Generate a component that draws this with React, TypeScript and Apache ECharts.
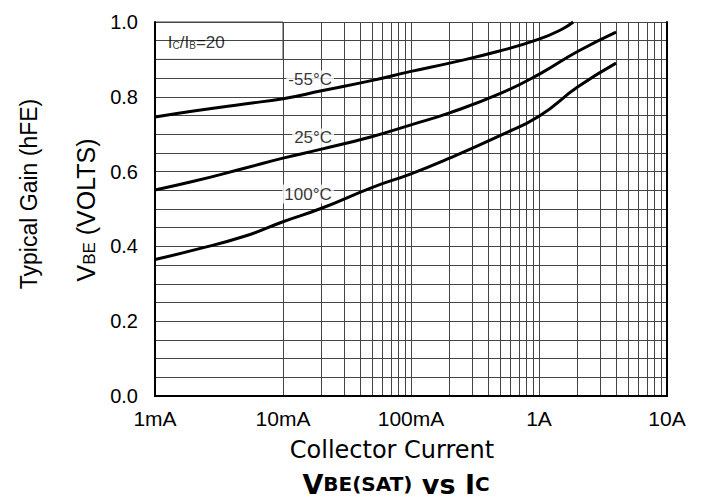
import React, { useEffect, useRef } from "react";
import * as echarts from "echarts";

// ---- data ----
const currentCold = [0.001, 0.002, 0.005, 0.01, 0.02, 0.05, 0.1, 0.2, 0.5, 1, 1.5, 1.85];
const vbeCold = [0.746, 0.762, 0.781, 0.795, 0.816, 0.844, 0.868, 0.89, 0.923, 0.954, 0.98, 1.0];
const currentRoom = [0.001, 0.002, 0.005, 0.01, 0.02, 0.05, 0.1, 0.2, 0.5, 1, 2, 4];
const vbeRoom = [0.551, 0.574, 0.609, 0.636, 0.66, 0.694, 0.725, 0.757, 0.809, 0.86, 0.921, 0.973];
const currentHot = [0.001, 0.002, 0.005, 0.01, 0.02, 0.05, 0.1, 0.2, 0.5, 1, 2, 4];
const vbeHot = [0.365, 0.39, 0.427, 0.466, 0.502, 0.558, 0.594, 0.636, 0.697, 0.748, 0.826, 0.89];

const xTickValues = [0.001, 0.01, 0.1, 1, 10];
const xTickLabels = ["1mA", "10mA", "100mA", "1A", "10A"];
const seriesNames = ["-55°C", "25°C", "100°C"];

// annotation anchors (in data units)
const tempLabelAnchors = [
  [0.0163, 0.845],
  [0.0172, 0.69],
  [0.0157, 0.54],
];
const ratioAnchor = [0.00126, 0.9465];

const FONT = "'Liberation Sans', Arial, Helvetica, sans-serif";
const GRID_COLOR = "#444";

export default function App() {
  const ref = useRef<HTMLDivElement>(null);

  useEffect(() => {
    if (!ref.current) return;
    const chart = echarts.init(ref.current, undefined, { renderer: "svg" });

    const minorX: number[] = [];
    for (let d = 0; d < 4; d++) {
      const dec = Math.pow(10, d - 3);
      for (let m = 2; m <= 9; m++) minorX.push(+(dec * m).toPrecision(6));
    }

    const labelFor = (v: number) => {
      const idx = xTickValues.findIndex((t) => Math.abs(Math.log10(t) - Math.log10(v)) < 1e-6);
      return idx >= 0 ? xTickLabels[idx] : "";
    };

    const pair = (xs: number[], ys: number[]) => xs.map((x, i) => [x, ys[i]]);

    const curveStyle = { color: "#000", width: 3 };

    chart.setOption({
      animation: false,
      backgroundColor: "#fff",
      grid: { left: 155, top: 22, width: 512, height: 374, containLabel: false },
      xAxis: [
        {
          type: "log",
          logBase: 10,
          min: 0.001,
          max: 10,
          axisLine: { show: true, lineStyle: { color: "#000", width: 2 } },
          axisTick: { show: false },
          axisLabel: {
            color: "#000",
            fontSize: 21,
            fontFamily: FONT,
            margin: 12,
            formatter: (v: number) => labelFor(v),
          },
          splitLine: { show: true, lineStyle: { color: GRID_COLOR, width: 1 } },
          z: 3,
        },
        {
          type: "log",
          logBase: 10,
          min: 0.001,
          max: 10,
          position: "top",
          axisLine: { show: true, lineStyle: { color: "#000", width: 2 } },
          axisTick: { show: false },
          axisLabel: { show: false },
          splitLine: { show: false },
          z: 3,
        },
      ],
      yAxis: [
        {
          type: "value",
          min: 0,
          max: 1,
          interval: 0.2,
          axisLine: { show: true, lineStyle: { color: "#000", width: 2 } },
          axisTick: { show: false },
          minorTick: { show: false, splitNumber: 4 },
          minorSplitLine: { show: true, lineStyle: { color: GRID_COLOR, width: 1 } },
          splitLine: { show: true, lineStyle: { color: GRID_COLOR, width: 1 } },
          axisLabel: {
            color: "#000",
            fontSize: 20,
            fontFamily: FONT,
            margin: 17,
            formatter: (v: number) => v.toFixed(1),
          },
          z: 3,
        },
        {
          type: "value",
          min: 0,
          max: 1,
          interval: 0.2,
          position: "right",
          axisLine: { show: true, lineStyle: { color: "#000", width: 2 } },
          axisTick: { show: false },
          axisLabel: { show: false },
          splitLine: { show: false },
          z: 3,
        },
      ],
      series: [
        {
          name: seriesNames[0],
          type: "line",
          data: pair(currentCold, vbeCold),
          smooth: 0.5,
          showSymbol: false,
          lineStyle: curveStyle,
          z: 5,
          markLine: {
            silent: true,
            symbol: "none",
            z: 1,
            label: { show: false },
            lineStyle: { color: GRID_COLOR, width: 1, type: "solid" },
            data: minorX.map((x) => ({ xAxis: x })),
          },
          markArea: {
            silent: true,
            z: 2,
            itemStyle: { color: "#fff", borderColor: GRID_COLOR, borderWidth: 1, opacity: 1 },
            data: [[{ xAxis: 0.001, yAxis: 0.9 }, { xAxis: 0.01, yAxis: 1.0 }]],
          },
        },
        {
          name: seriesNames[1],
          type: "line",
          data: pair(currentRoom, vbeRoom),
          smooth: 0.5,
          showSymbol: false,
          lineStyle: curveStyle,
          z: 5,
        },
        {
          name: seriesNames[2],
          type: "line",
          data: pair(currentHot, vbeHot),
          smooth: 0.5,
          showSymbol: false,
          lineStyle: curveStyle,
          z: 5,
        },
        {
          type: "scatter",
          symbolSize: 0,
          silent: true,
          z: 4,
          data: tempLabelAnchors.map((p, i) => ({ value: p, name: seriesNames[i] })),
          label: {
            show: true,
            position: "inside",
            formatter: (p: any) => p.name,
            color: "#000",
            fontSize: 17,
            fontFamily: FONT,
            backgroundColor: "#fff",
            padding: [1, 2],
          },
        },
        {
          type: "scatter",
          symbolSize: 0,
          silent: true,
          z: 6,
          data: [{ value: ratioAnchor, name: "ratio" }],
          label: {
            show: true,
            position: "right",
            distance: 0,
            formatter: "{m|I}{s|C}{m|/I}{s|B}{m|=20}",
            rich: {
              m: { fontSize: 17, fontFamily: FONT, color: "#000" },
              s: { fontSize: 10, fontFamily: FONT, color: "#000", verticalAlign: "bottom", padding: [4, 0, 0, 0] },
            },
          },
        },
      ],
      graphic: [
        {
          type: "text",
          x: 392,
          y: 450,
          style: {
            text: "Collector Current",
            font: `24px 'DejaVu Sans', ${FONT}`,
            fill: "#000",
            textAlign: "center",
            textVerticalAlign: "middle",
          },
        },
        {
          type: "text",
          x: 396,
          y: 484,
          style: {
            text: "{a|V}{b|BE(SAT)}{a| vs I}{b|C}",
            textAlign: "center",
            textVerticalAlign: "middle",
            fill: "#000",
            rich: {
              a: { fontSize: 27, lineHeight: 30, fontWeight: "bold", fontFamily: `'DejaVu Sans', ${FONT}`, fill: "#000" },
              b: { fontSize: 20, lineHeight: 30, fontWeight: "bold", fontFamily: `'DejaVu Sans', ${FONT}`, fill: "#000" },
            },
          },
        },
        {
          type: "text",
          x: 86,
          y: 210,
          rotation: Math.PI / 2,
          style: {
            text: "{a|V}{b|BE}{a| (VOLTS)}",
            textAlign: "center",
            textVerticalAlign: "middle",
            fill: "#000",
            rich: {
              a: { fontSize: 25, fontFamily: FONT, fill: "#000" },
              b: { fontSize: 17, fontFamily: FONT, fill: "#000", padding: [6, 0, 0, 0] },
            },
          },
        },
        {
          type: "text",
          x: 29,
          y: 194,
          rotation: Math.PI / 2,
          style: {
            text: "Typical Gain (hFE)",
            font: `23px ${FONT}`,
            fill: "#000",
            textAlign: "center",
            textVerticalAlign: "middle",
          },
        },
      ],
    });

    return () => chart.dispose();
  }, []);

  return (
    <div
      ref={ref}
      style={{ position: "fixed", left: 0, top: 0, width: 705, height: 500, background: "#fff" }}
    />
  );
}
